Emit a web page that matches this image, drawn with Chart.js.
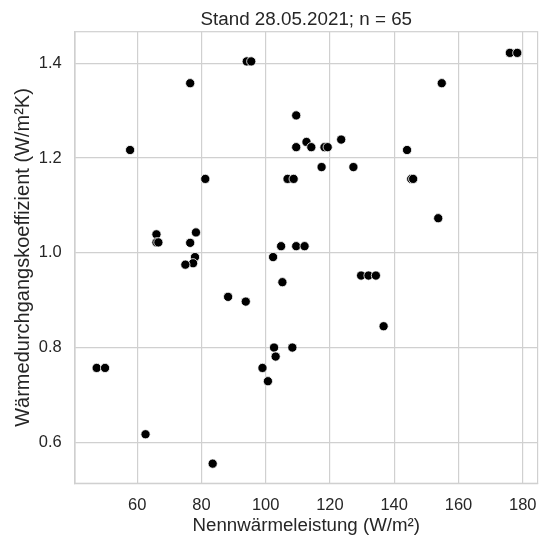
<!DOCTYPE html>
<html><head><meta charset="utf-8">
<script src="https://cdn.jsdelivr.net/npm/chart.js@4/dist/chart.umd.min.js"></script>
<style>html,body{margin:0;padding:0;background:#fff;} canvas{display:block;}</style>
</head><body>
<canvas id="c" width="543" height="537"></canvas>
<script>
const xValues = [94.1,95.5,76.5,57.8,109.5,109.5,112.7,81.2,106.8,108.7,66.0,78.3,176.0,178.3,154.8,114.2,118.3,119.3,123.5,117.4,127.3,144.0,145.3,145.9,153.7,66.0,66.6,76.5,78.0,77.4,75.0,88.3,93.8,104.8,109.5,112.1,102.3,105.2,47.4,50.0,62.6,83.5,102.6,108.3,103.1,99.0,100.7,129.7,132.0,134.3,136.7];
const yValues = [1.404,1.404,1.358,1.217,1.290,1.223,1.234,1.156,1.156,1.156,1.039,1.043,1.422,1.422,1.358,1.223,1.223,1.223,1.239,1.181,1.181,1.217,1.156,1.156,1.073,1.022,1.022,1.021,0.991,0.978,0.975,0.907,0.897,1.014,1.014,1.014,0.991,0.938,0.757,0.757,0.617,0.555,0.800,0.800,0.781,0.757,0.729,0.952,0.952,0.952,0.845];
const xTicks = [60,80,100,120,140,160,180];
const yTicks = [0.6,0.8,1.0,1.2,1.4];
const titleText = 'Stand 28.05.2021; n = 65';
const xLabel = 'Nennwärmeleistung (W/m²)';
const yLabel = 'Wärmedurchgangskoeffizient (W/m²K)';

const points = xValues.map((x, i) => ({x: x, y: yValues[i]}));
const FONT = "'Liberation Sans', Arial, sans-serif";
const TEXT = '#262626';
const GRID = '#d0d0d0';

const frame = {
  id: 'frame',
  beforeDatasetsDraw(chart) {
    const a = chart.chartArea, ctx = chart.ctx;
    ctx.save();
    ctx.strokeStyle = GRID;
    ctx.lineWidth = 1.2;
    ctx.strokeRect(a.left, a.top, a.right - a.left, a.bottom - a.top);
    ctx.restore();
  }
};

new Chart(document.getElementById('c'), {
  type: 'scatter',
  data: { datasets: [{
    data: points,
    backgroundColor: '#000000',
    borderColor: '#ffffff',
    borderWidth: 0.8,
    pointRadius: 4.6,
    pointHoverRadius: 4.6
  }]},
  options: {
    responsive: false,
    animation: false,
    events: [],
    layout: { padding: { top: 0, left: 0, right: 1.3, bottom: 0 } },
    plugins: {
      legend: { display: false },
      tooltip: { enabled: false },
      title: {
        display: true, text: titleText, color: TEXT, fullSize: false,
        font: { family: FONT, size: 18.8, weight: 'normal', lineHeight: 1.2 },
        padding: { top: 8.9, bottom: 0.24 }
      }
    },
    scales: {
      x: {
        type: 'linear', min: 40.65, max: 184.63,
        afterBuildTicks: s => { s.ticks = xTicks.map(v => ({value: v})); },
        afterFit: s => { s.height = 53.7; s.paddingLeft = 0; s.paddingRight = 0; },
        grid: { color: GRID, lineWidth: 1.2, drawTicks: false },
        border: { display: true, color: GRID, width: 1.2 },
        ticks: { color: TEXT, font: { family: FONT, size: 16.5 }, padding: 12.3, maxRotation: 0, autoSkip: false,
                 callback: v => String(v) },
        title: { display: true, text: xLabel, color: TEXT,
                 font: { family: FONT, size: 18.7, lineHeight: 1.2 }, padding: { top: 0, bottom: 0 } }
      },
      y: {
        type: 'linear', min: 0.5135, max: 1.4667,
        afterBuildTicks: s => { s.ticks = yTicks.map(v => ({value: v})); },
        afterFit: s => { s.width = 75; s.paddingTop = 0; s.paddingBottom = 0; },
        grid: { color: GRID, lineWidth: 1.2, drawTicks: false },
        border: { display: true, color: GRID, width: 1.2 },
        ticks: { color: TEXT, font: { family: FONT, size: 16.5 }, padding: 13.3, autoSkip: false,
                 callback: v => v.toFixed(1) },
        title: { display: true, text: yLabel, color: TEXT,
                 font: { family: FONT, size: 20, lineHeight: 1.2 }, padding: { top: 11, bottom: 0 } }
      }
    }
  },
  plugins: [frame]
});
</script>
</body></html>
